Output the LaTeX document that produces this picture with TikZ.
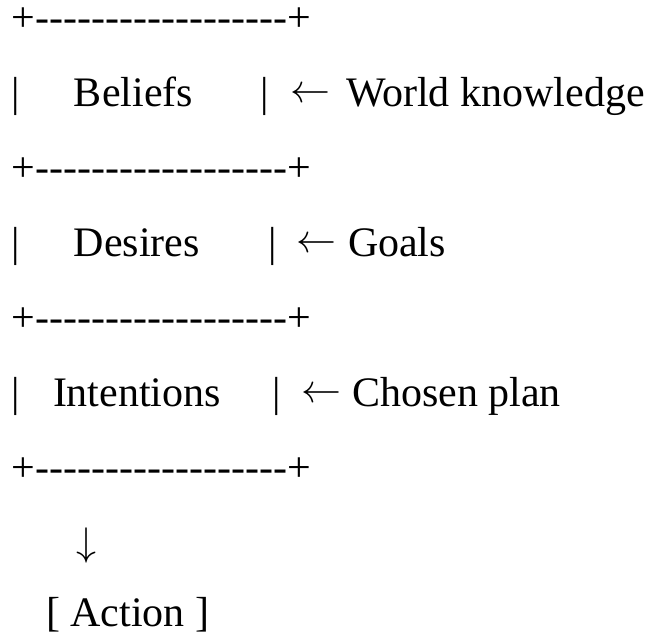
\documentclass[tikz,border=0pt]{standalone}
\usepackage{graphicx}
\usepackage{fontspec}
\setmainfont{Liberation Serif}
\newcommand{\hyph}{\mbox{-}}
\newcommand{\sepline}{+\hyph\hyph\hyph\hyph\hyph\hyph\hyph\hyph\hyph\hyph\hyph\hyph\hyph\hyph\hyph\hyph\hyph\hyph+}
\newcommand{\bigleft}{\scalebox{4.0}{$\leftarrow$}}
\newcommand{\bigdown}{\scalebox{4.0}{$\downarrow$}}
\begin{document}
\begin{tikzpicture}[x=1pt,y=-1pt,
  txt/.style={anchor=base west,inner sep=0pt,outer sep=0pt,font=\fontsize{42}{50}\selectfont},
  arr/.style={anchor=base west,inner sep=0pt,outer sep=0pt}]
\useasboundingbox (0,0) rectangle (649,636);
% separator rows
\node[txt] (s1) at (12,31.5) {\sepline};
\node[txt] (s2) at (12,181.5) {\sepline};
\node[txt] (s3) at (12,331.5) {\sepline};
\node[txt] (s4) at (12,481.5) {\sepline};
% Beliefs row
\node[txt] (p1l) at (12,106.5) {|};
\node[txt] (bel) at (74,106.5) {Beliefs};
\node[txt] (p1r) at (260,106.5) {|};
\node[arr] (a1) at (290,103) {\bigleft};
\node[txt] (wk) at (346,106.5) {World knowledge};
% Desires row
\node[txt] (p2l) at (12,256.5) {|};
\node[txt] (des) at (74,256.5) {Desires};
\node[txt] (p2r) at (268,256.5) {|};
\node[arr] (a2) at (296,253) {\bigleft};
\node[txt] (goals) at (348,256.5) {Goals};
% Intentions row
\node[txt] (p3l) at (12,406.5) {|};
\node[txt] (int) at (53,406.5) {Intentions};
\node[txt] (p3r) at (272,406.5) {|};
\node[arr] (a3) at (301,403) {\bigleft};
\node[txt] (plan) at (352,406.5) {Chosen plan};
% down arrow and action
\node[arr] (down) at (76,556) {\bigdown};
\node[txt] (act) at (46,627) {[ Action ]};
\end{tikzpicture}
\end{document}
